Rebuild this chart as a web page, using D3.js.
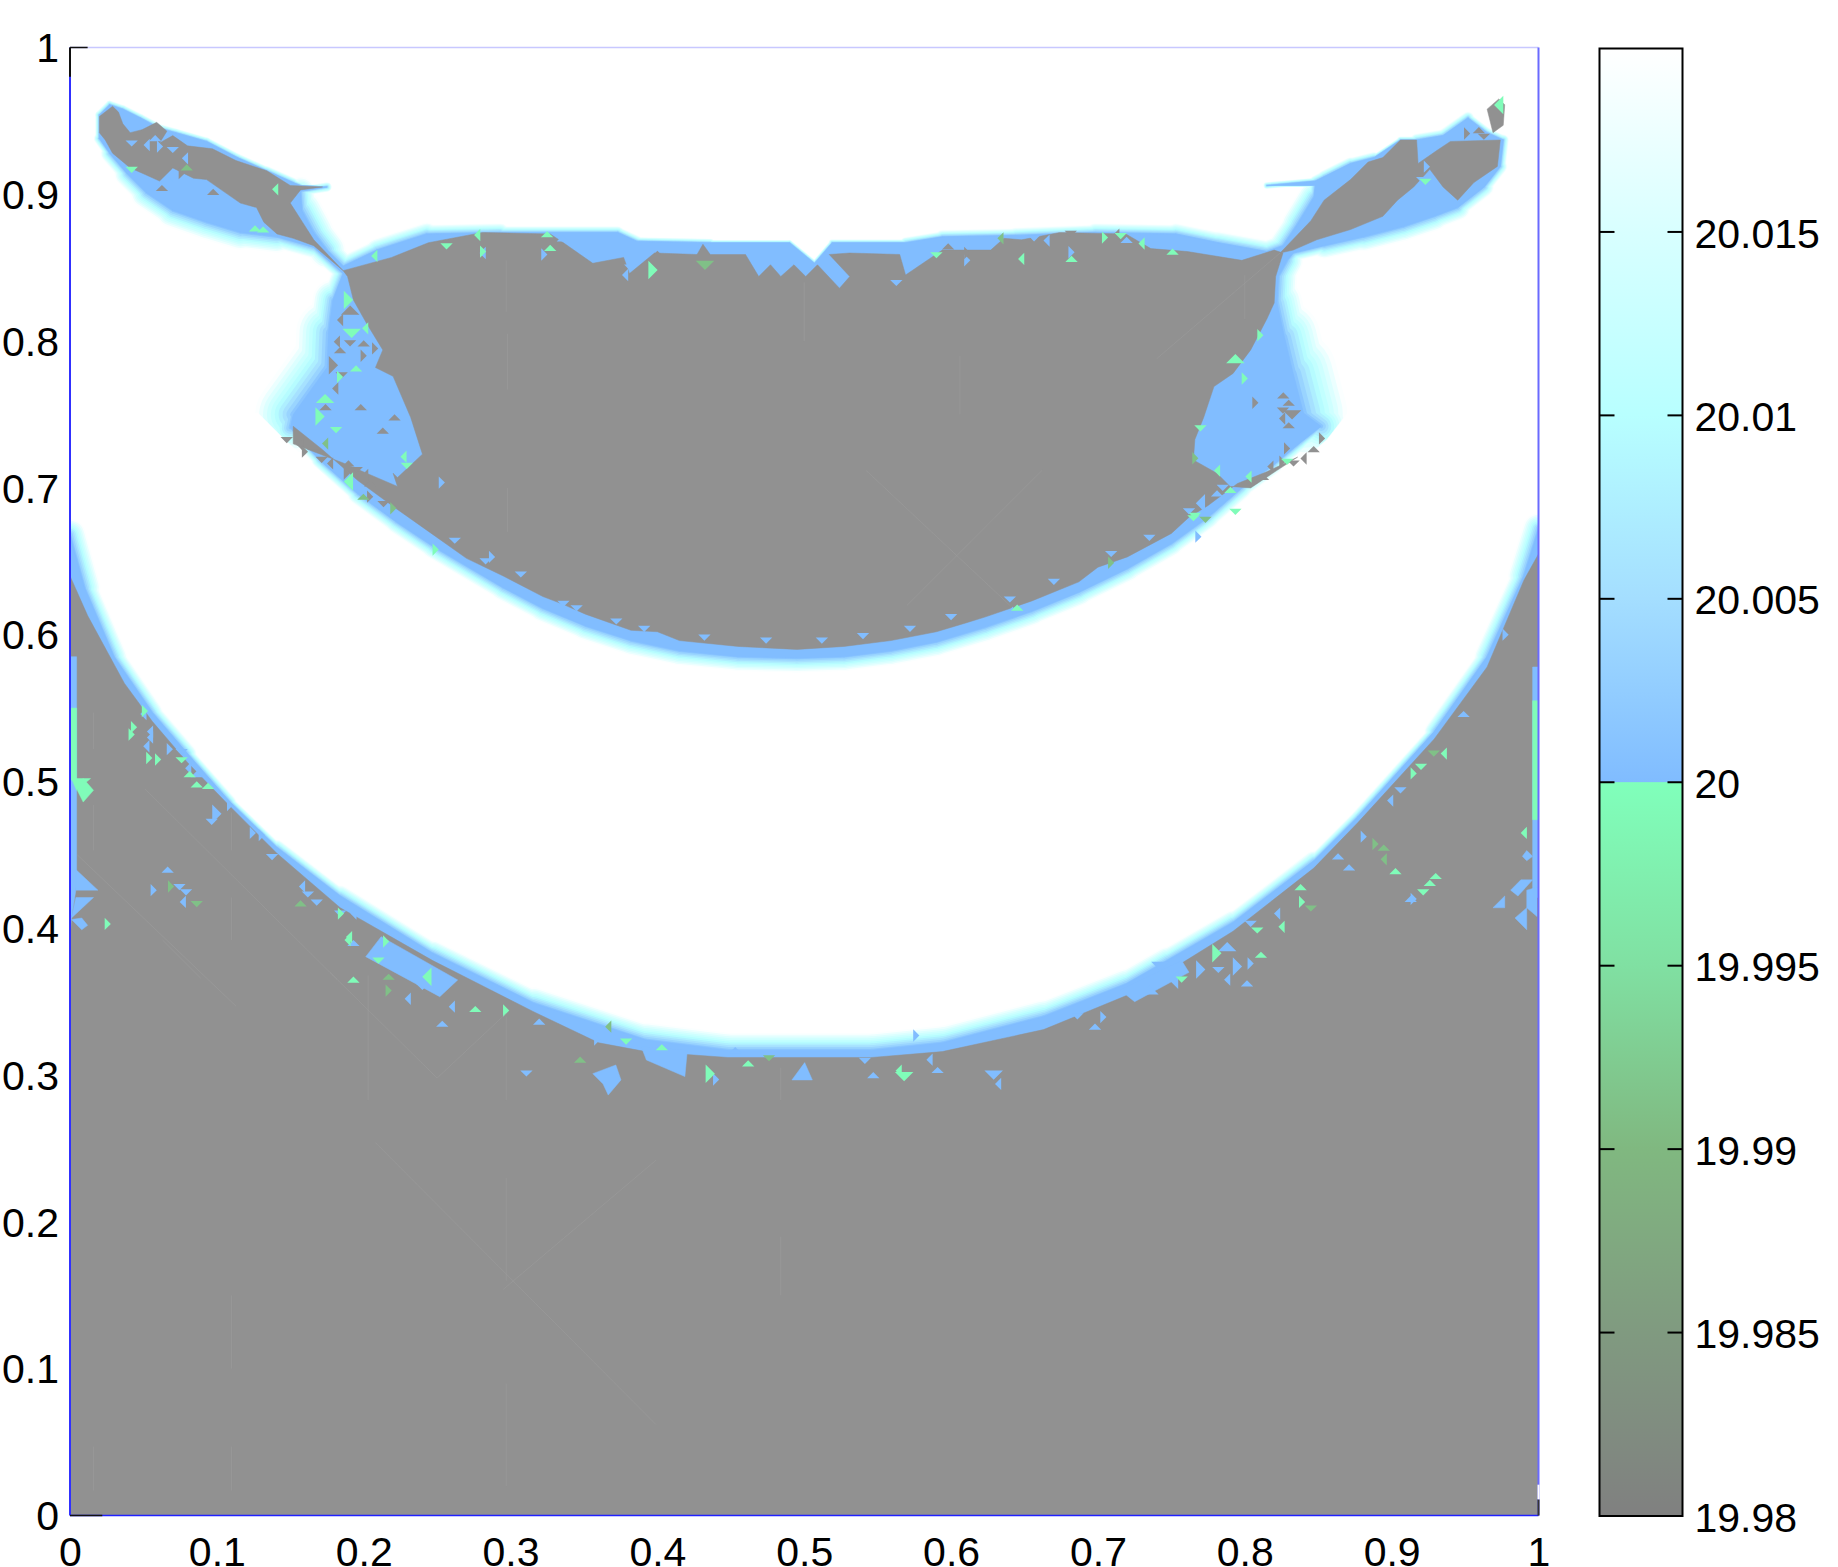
<!DOCTYPE html>
<html>
<head>
<meta charset="utf-8">
<script src="https://cdn.jsdelivr.net/npm/d3@7"></script>
<style>
  html, body { margin: 0; padding: 0; background: #fff; }
  svg { display: block; }
  text { font-family: "Liberation Sans", Arial, sans-serif; fill: #000; }
</style>
</head>
<body>
<div id="chart"></div>
<script>
// tick labels
var xTicks = [0, 0.1, 0.2, 0.3, 0.4, 0.5, 0.6, 0.7, 0.8, 0.9, 1];
var yTicks = [0, 0.1, 0.2, 0.3, 0.4, 0.5, 0.6, 0.7, 0.8, 0.9, 1];
var barTicks = [19.98, 19.985, 19.99, 19.995, 20, 20.005, 20.01, 20.015];
var barStubs = [19.985, 19.99, 19.995, 20, 20.005, 20.01, 20.015];

// colormap
var mapValues = [19.98, 19.985, 19.99, 19.995, 19.99999, 20.00001, 20.005, 20.01, 20.015, 20.02];
var mapColors = ["#808080", "#809a80", "#80b880", "#80e0a2", "#80ffbb", "#80bcff", "#a4deff", "#b8ffff", "#d8ffff", "#ffffff"];
var fieldGray = "#919191";

// steps of the fading edge between 20 and the top of the range
var bandLevels = [20.0195, 20.0175, 20.0155, 20.0135, 20.0115, 20.0095, 20.0075, 20.0055, 20.0035, 20.0015];

// contour at 20, upper region: x, y, width of the fade beyond it
var upperContour = [
  [.020,.954,.003],[.027,.961,.003],[.036,.958,.003],[.048,.952,.003],[.061,.945,.003],[.072,.942,.003],
  [.093,.936,.003],[.114,.925,.003],[.134,.916,.003],[.152,.908,.004],[.157,.906,.001],[.175,.905,.001],
  [.157,.902,.006],[.158,.889,.014],[.166,.874,.014],[.175,.862,.012],[.186,.851,.006],[.209,.862,.008],
  [.243,.873,.008],[.293,.874,.005],[.373,.874,.004],[.386,.868,.004],[.436,.867,.002],[.490,.867,.002],
  [.507,.853,.002],[.519,.867,.002],[.569,.867,.003],[.594,.871,.005],[.644,.872,.005],[.698,.874,.006],
  [.753,.873,.007],[.782,.867,.008],[.815,.861,.008],[.826,.865,.008],[.836,.880,.012],[.847,.898,.010],
  [.848,.906,.001],[.815,.906,.001],[.848,.909,.004],[.854,.912,.004],[.872,.921,.005],[.888,.925,.003],
  [.906,.937,.001],[.917,.937,.004],[.935,.940,.005],[.952,.952,.004],[.965,.942,.003],[.976,.937,.004],
  [.974,.919,.004],[.963,.905,.006],[.945,.891,.008],[.929,.885,.010],[.908,.878,.010],[.881,.871,.010],
  [.854,.865,.008],[.833,.860,.004],[.829,.855,.010],[.823,.844,.012],[.822,.826,.014],[.827,.803,.021],
  [.833,.778,.029],[.840,.751,.032],[.852,.742,.005],[.838,.731,.005],[.820,.716,.006],[.798,.700,.007],
  [.775,.680,.008],[.750,.662,.008],[.720,.645,.009],[.687,.629,.009],[.655,.616,.010],[.623,.605,.010],
  [.590,.595,.010],[.559,.589,.010],[.527,.585,.010],[.495,.584,.010],[.455,.585,.010],[.415,.589,.010],
  [.382,.596,.010],[.351,.606,.010],[.322,.618,.009],[.295,.632,.009],[.2475,.660,.008],[.222,.677,.008],
  [.196,.696,.007],[.170,.719,.005],[.150,.741,.005],[.152,.750,.026],[.175,.782,.027],[.176,.806,.018],
  [.179,.828,.010],[.186,.846,.006],
  [.166,.864,.006],[.141,.871,.010],[.116,.874,.012],[.093,.881,.012],[.070,.889,.012],[.052,.901,.010],
  [.039,.914,.008],[.027,.928,.005],[.020,.938,.003]
];

// contour at 20, lower region
var lowerContour = [
  [0,.668,.012],[.010,.632,.010],[.030,.585,.008],[.056,.547,.007],[.080,.519,.006],[.109,.486,.003],
  [.141,.455,.004],[.184,.422,.007],[.247,.383,.008],[.316,.349,.010],[.392,.324,.012],[.448,.317,.012],
  [.546,.317,.012],[.594,.322,.012],[.663,.340,.011],[.719,.362,.010],[.747,.378,.009],[.792,.404,.008],
  [.847,.446,.006],[.877,.476,.003],[.929,.534,.006],[.965,.585,.008],[.990,.640,.010],[1,.672,.012],
  [1,0,0],[0,0,0]
];

// white wedges beyond the two sharp corners of the bowl
var cornerWedges = [
  [[.870,.751],[.856,.733],[.828,.708],[.900,.660],[.950,.750]],
  [[.128,.751],[.146,.733],[.174,.708],[.100,.660],[.050,.750]]
];

// solid gray areas below the range
var grayBowl = [
  [.186,.848],[.219,.857],[.244,.867],[.281,.874],[.327,.873],[.336,.867],[.356,.853],[.377,.857],[.381,.846],
  [.398,.860],[.427,.859],[.431,.866],[.436,.859],[.460,.859],[.469,.844],[.477,.852],[.484,.844],[.493,.852],
  [.501,.844],[.509,.852],[.524,.836],[.531,.844],[.517,.859],[.531,.860],[.565,.859],[.569,.845],[.594,.862],
  [.627,.862],[.636,.870],[.648,.869],[.674,.874],[.719,.873],[.736,.863],[.761,.861],[.798,.855],[.820,.862],
  [.826,.860],[.821,.844],[.820,.826],[.815,.815],[.804,.794],[.792,.778],[.779,.769],[.772,.748],[.766,.733],
  [.765,.719],[.781,.710],[.790,.701],[.804,.700],[.822,.712],[.836,.721],[.815,.711],[.795,.703],[.775,.688],
  [.762,.680],[.750,.669],[.720,.653],[.700,.646],[.687,.636],[.655,.623],[.623,.612],[.610,.608],[.590,.602],
  [.559,.596],[.527,.592],[.495,.590],[.455,.592],[.415,.596],[.400,.602],[.382,.603],[.351,.614],[.335,.621],
  [.322,.626],[.295,.640],[.270,.652],[.2475,.668],[.222,.686],[.196,.705],[.172,.726],[.152,.742],
  [.152,.730],[.186,.717],[.202,.710],[.223,.701],
  [.220,.710],[.223,.707],[.240,.723],[.232,.748],[.220,.776],[.208,.782],[.213,.794],[.202,.812],[.193,.828],[.189,.844]
];

var grayLeftWing = [
  [.020,.953],[.029,.960],[.033,.956],[.036,.948],[.041,.942],[.049,.944],[.059,.949],[.066,.943],[.061,.935],
  [.070,.940],[.080,.933],[.097,.931],[.113,.923],[.134,.916],[.150,.906],[.172,.905],[.157,.903],[.150,.894],
  [.159,.880],[.166,.869],[.186,.848],[.166,.865],[.152,.870],[.141,.873],[.132,.881],[.127,.891],[.116,.894],
  [.093,.910],[.084,.911],[.070,.918],[.061,.909],[.050,.914],[.041,.918],[.029,.928],[.024,.937],[.020,.942]
];

var grayRightWing = [
  [.824,.860],[.845,.882],[.854,.896],[.872,.910],[.884,.922],[.894,.925],[.906,.937],[.917,.937],[.918,.921],
  [.931,.930],[.940,.936],[.974,.937],[.972,.919],[.956,.908],[.945,.896],[.935,.905],[.926,.917],[.915,.905],
  [.904,.896],[.894,.885],[.872,.876],[.849,.869],[.833,.862]
];

var grayTip = [[.973,.965],[.977,.961],[.976,.947],[.969,.942],[.965,.958]];

var grayLower = [
  [0,.640],[.012,.613],[.037,.567],[.056,.541],[.080,.513],[.109,.483],[.141,.451],[.184,.414],[.247,.378],
  [.316,.343],[.360,.322],[.392,.316],[.448,.312],[.546,.312],[.594,.316],[.663,.331],[.719,.354],[.747,.370],
  [.792,.398],[.847,.441],[.877,.472],[.929,.529],[.965,.578],[.990,.637],[1,.655],[1,0],[0,0]
];

// larger patches just above and just below 20, drawn over the gray
var bluePatches = [
  [[0,.585],[.0045,.585],[.0045,.501],[0,.501]],
  [[0,.501],[.0045,.501],[.0045,.440],[.004,.426],[.001,.407],[0,.395]],
  [[.004,.440],[.019,.426],[.004,.426]],
  [[.001,.407],[.016,.421],[.004,.421]],
  [[.001,.406],[.008,.407],[.012,.402],[.008,.399]],
  [[.996,.578],[1,.578],[1,.421],[.996,.421]],
  [[.992,.414],[.992,.399],[.984,.407]],
  [[.999,.408],[.992,.414],[.992,.426],[.999,.428]],
  [[.969,.414],[.977,.414],[.977,.422]],
  [[.981,.426],[.988,.433],[.996,.433],[.986,.422]],
  [[.989,.449],[.992,.453],[.996,.449],[.992,.446]],
  [[.2014,.3807],[.2119,.3943],[.264,.3648],[.2518,.3534]],
  [[.389,.3194],[.4204,.317],[.4187,.299],[.3925,.3103]],
  [[.356,.301],[.3717,.3069],[.3752,.2967],[.3665,.2864],[.363,.294]],
  [[.4916,.2967],[.5003,.3085],[.5055,.2967]],
  [[.715,.358],[.757,.378],[.762,.370],[.725,.350]]
];
var greenPatches = [
  [[0,.550],[.0045,.550],[.0045,.501],[0,.501]],
  [[.996,.555],[1,.555],[1,.474],[.996,.474]],
  [[.001,.502],[.014,.502],[.0045,.494]],
  [[.005,.494],[.009,.502],[.016,.494],[.009,.486]]
];

// single mesh cells: x, y, direction (0 up, 1 right, 2 down, 3 left, 4 by position), size
var blueCells = [
  [.0665,.440,0,1],[.057,.426,1,1],[.0745,.428,2,1],[.079,.4245,2,1],[.0768,.418,3,1],[.100,.478,4,2],[.0965,.4725,4,1],
  [.109,.484,1,1],[.1245,.465,1,1],[.1306,.4635,1,1],[.1376,.4485,4,1],[.158,.4285,4,1],[.162,.423,2,1],[.168,.4175,2,1],
  [.184,.410,4,1],[.193,.410,4,1],[.193,.390,4,1],[.068,.522,4,1],[.076,.520,4,1],[.050,.546,4,1],[.0545,.534,3,1],
  [.0545,.530,3,1],[.052,.524,3,1],[.0805,.509,4,1],[.0863,.505,4,1],
  [.881,.4624,4,1],[.8635,.449,0,1],[.871,.4415,0,1],[.913,.420,4,1],[.915,.420,4,1],[.906,.494,4,1],[.899,.487,4,1],
  [.949,.546,4,1],[.9776,.600,4,1],[.804,.403,4,1],[.822,.410,4,1],[.788,.3875,4,2],[.795,.374,4,2],[.782,.3716,4,1],
  [.788,.365,4,1],[.8015,.3625,4,1],[.804,.376,1,1],[.7425,.374,4,2],[.7515,.365,4,2],[.735,.358,4,2],[.770,.372,4,2],
  [.3108,.3011,4,1],[.5853,.3105,4,1],[.5908,.3035,4,1],[.5763,.327,4,1],[.629,.300,4,2],[.632,.294,4,1],[.698,.333,4,1],
  [.7037,.3395,4,1],[.686,.340,4,1],[.260,.3466,4,1],[.3195,.3364,4,1],[.359,.3242,4,1],[.453,.317,0,1],[.547,.300,0,1],
  [.5413,.3097,2,1],[.440,.297,4,1],[.240,.360,4,1],[.230,.352,4,1],[.2535,.335,4,1],
  [.2874,.653,4,1],[.307,.641,4,1],[.640,.615,4,1],[.2532,.7036,1,1],
  [.262,.664,2,1],[.283,.650,2,1],[.336,.621,2,1],[.345,.618,2,1],[.372,.609,2,1],[.391,.604,2,1],[.432,.598,2,1],
  [.474,.596,2,1],[.512,.596,2,1],[.540,.599,2,1],[.572,.604,2,1],[.600,.612,2,1],[.640,.624,2,1],[.670,.636,2,1],
  [.709,.655,2,1],[.735,.666,2,1],[.762,.684,2,1],[.785,.700,2,1],
  [.281,.860,4,1],[.3356,.870,4,1],[.323,.859,4,1],[.3815,.850,4,1],[.378,.845,4,1],[.5627,.8396,2,1],[.611,.855,4,1],
  [.6565,.870,4,1],[.665,.8685,4,1],[.7195,.869,4,1],[.682,.8605,4,1],
  [.042,.9346,4,1],[.0522,.9336,4,1],[.058,.9383,4,1],[.0613,.9325,4,1],[.070,.9302,4,1],[.0783,.9245,4,1],[.0659,.9109,4,1],
  [.924,.9188,4,1],[.9208,.9097,4,1],[.7698,.6895,4,2],[.7811,.6963,4,1],[.7684,.6668,4,1]
];
var greenCells = [
  [.0257,.403,1,1],[.051,.548,4,1],[.0436,.537,1,1],[.042,.532,1,1],[.054,.516,1,1],[.060,.515,1,1],[.076,.5145,4,1],
  [.0815,.505,0,1],[.0863,.498,0,1],[.094,.497,0,1],[.1845,.410,1,1],[.190,.394,4,1],
  [.9026,.439,0,1],[.930,.4356,0,1],[.926,.431,0,1],[.9215,.4245,2,1],[.990,.465,3,1],[.915,.5055,4,1],[.920,.510,4,1],
  [.9355,.519,4,1],[.838,.428,4,1],[.839,.418,4,1],[.8085,.3985,4,1],[.825,.401,4,1],[.811,.382,4,1],[.781,.383,4,2],[.757,.365,4,1],
  [.189,.392,4,1],[.193,.365,4,1],[.2153,.391,4,1],[.210,.378,4,1],[.243,.367,4,2],[.276,.345,4,1],[.297,.344,4,1],
  [.3787,.3228,4,1],[.403,.319,0,1],[.4618,.308,0,1],[.436,.301,4,2],[.568,.299,4,2],[.5643,.303,4,1],
  [.645,.6185,4,1],[.249,.658,4,1],[.766,.681,4,1],
  [.2773,.8723,4,1],[.3249,.8728,4,1],[.2813,.861,4,1],[.2564,.8645,4,1],[.2072,.858,4,1],[.327,.8635,4,1],[.397,.8484,4,2],
  [.590,.8585,4,1],[.6477,.856,4,1],[.682,.856,4,1],[.7048,.8705,4,1],[.7155,.8715,4,1],[.7297,.8665,4,1],[.7508,.861,4,1],[.1896,.828,4,2],
  [.042,.9166,4,1],[.1397,.9034,4,1],[.126,.8768,0,1],[.1315,.876,0,1],[.923,.9085,4,1],[.9729,.9608,4,2],
  [.7936,.7881,4,2],[.800,.7745,4,1],[.7698,.7405,4,1],[.8025,.7077,4,1],[.7902,.6987,0,1],[.8106,.804,4,1],[.8288,.7178,4,1],
  [.7811,.7118,4,1],[.765,.6793,2,1],[.7936,.6837,2,1],
  [.1918,.8053,4,2],[.201,.8087,4,1],[.1737,.7609,4,2],[.1703,.7486,4,2],[.1812,.7394,4,1],[.1896,.7043,4,2],[.1948,.7814,4,1],
  [.1839,.7756,4,1],[.2293,.715,4,1],[.2271,.7213,4,1]
];
var darkCells = [
  [.0688,.4285,1,1],[.0863,.4165,2,1],[.157,.417,0,1],[.8946,.455,0,1],[.8946,.447,3,1],[.889,.4574,1,1],[.9287,.519,4,1],
  [.845,.4135,2,1],[.217,.367,4,1],[.217,.3576,4,1],[.3474,.3105,0,1],[.3665,.333,4,1],[.476,.3115,2,1],[.709,.649,4,1],
  [.4324,.8515,4,2],[.6336,.870,4,1],[.0795,.9183,4,1],[.7663,.7202,4,1],[.7732,.6782,4,1],[.1737,.7302,4,1],[.1998,.694,4,1],[.2202,.6861,4,1]
];
var grayCells = [
  [.598,.8645,4,1],[.611,.860,4,1],[.6815,.873,4,1],[.7125,.8725,4,1],[.400,.8594,4,1],[.0761,.9144,4,1],[.0975,.9017,0,1],
  [.0626,.9043,0,1],[.9594,.9437,4,1],[.9514,.9414,4,1],[.9628,.9392,4,1],[.8072,.758,1,1],[.8299,.758,4,1],[.8262,.763,0,1],
  [.8322,.7497,4,2],[.8254,.7473,4,1],[.8299,.7427,4,1],[.8288,.7269,4,1],[.826,.7526,4,1],[.8174,.7145,4,1],[.8124,.7075,4,1],
  [.8256,.7178,4,1],[.8332,.7166,4,1],[.840,.720,4,1],[.8469,.7264,4,1],[.8526,.7337,4,1],
  [.1476,.7326,4,1],[.1567,.7292,4,1],[.1658,.7281,4,1],[.160,.7247,4,1],[.1714,.7191,4,1],[.1771,.7167,4,1],[.1896,.7167,4,1],
  [.1885,.7098,4,1],[.1953,.7122,4,1],[.201,.7088,4,1],[.2044,.703,4,1],[.2044,.694,4,1],[.2135,.689,4,1],[.1817,.7996,4,1],
  [.1839,.7938,4,1],[.1794,.7836,4,2],[.185,.7766,4,1],[.1806,.7677,4,1],[.200,.7985,4,1],[.2078,.795,4,1],[.1907,.7985,4,1],
  [.1839,.8144,4,1],[.1908,.8211,4,2],[.200,.790,4,1],[.198,.755,0,1],[.213,.739,0,1],[.221,.748,0,1],[.174,.755,0,1]
];

// faint mesh lines inside the gray: x1, y1, x2, y2
var meshLines = [
  [.016,.047,.016,.017],[.110,.047,.110,.017],[.016,.547,.016,.522],[.016,.484,.016,.453],[.110,.479,.110,.453],[.110,.421,.110,.392],
  [.297,.340,.297,.283],[.203,.368,.203,.283],[.484,.305,.484,.283],[.298,.805,.298,.767],[.298,.700,.298,.670],[.297,.855,.297,.820],
  [.500,.840,.500,.800],[.606,.790,.606,.750],[.110,.150,.110,.100],[.297,.090,.297,.020],[.484,.190,.484,.150],[.297,.230,.297,.160],
  [.800,.845,.800,.815],
  [.005,.450,.113,.347],[.051,.495,.182,.365],[.063,.392,.089,.366],[.177,.370,.250,.298],[.250,.298,.297,.342],
  [.824,.860,.740,.788],[.542,.712,.640,.620],[.662,.712,.570,.620],[.208,.254,.399,.062],[.399,.242,.295,.154]
];

var margin = {top: 47.5, right: 299.5, bottom: 51.5, left: 70},
  width = 1838 - margin.left - margin.right,
  height = 1567 - margin.top - margin.bottom;

var x = d3.scaleLinear().domain([0, 1]).range([0, width]);
var y = d3.scaleLinear().domain([0, 1]).range([height, 0]);
var color = d3.scaleLinear().domain(mapValues).range(mapColors).clamp(true);

var svg = d3.select("#chart").append("svg")
  .attr("width", 1838)
  .attr("height", 1567);

svg.append("clipPath")
  .attr("id", "plot-clip")
  .append("rect")
  .attr("width", width)
  .attr("height", height);

var plot = svg.append("g")
  .attr("transform", "translate(" + margin.left + "," + margin.top + ")");

var field = plot.append("g").attr("clip-path", "url(#plot-clip)");

var ring = d3.line()
  .x(function(d) { return x(d[0]); })
  .y(function(d) { return y(d[1]); })
  .curve(d3.curveLinearClosed);

function drawAreas(list, fill) {
  field.append("g").selectAll("path")
    .data(list)
    .enter().append("path")
    .attr("d", ring)
    .attr("fill", fill)
    .attr("stroke", fill)
    .attr("stroke-width", 0.5);
}

// fading edges, palest and widest first
var contours = [upperContour, lowerContour];
bandLevels.forEach(function(level) {
  var t = (level - 20) / 0.02;
  contours.forEach(function(contour) {
    var segments = d3.pairs(contour.concat([contour[0]]))
      .filter(function(p) { return p[0][2] + p[1][2] > 0; });
    field.append("g").selectAll("line")
      .data(segments)
      .enter().append("line")
      .attr("x1", function(p) { return x(p[0][0]); })
      .attr("y1", function(p) { return y(p[0][1]); })
      .attr("x2", function(p) { return x(p[1][0]); })
      .attr("y2", function(p) { return y(p[1][1]); })
      .attr("stroke", color(level))
      .attr("stroke-linecap", "round")
      .attr("stroke-width", function(p) { return (x(p[0][2]) + x(p[1][2])) * t; });
  });
});

drawAreas(cornerWedges, "#fff");
drawAreas(contours, color(20.0002));
drawAreas([grayLower, grayBowl, grayLeftWing, grayRightWing, grayTip], fieldGray);
drawAreas(bluePatches, color(20.0002));
drawAreas(greenPatches, color(19.9995));

// one mesh cell as a small triangle
function cellPath(d, i) {
  var r = 0.0042 * (1 + (d[3] - 1) * 0.5), cx = d[0], cy = d[1], pts;
  var dir = d[2] == 4 ? i % 4 : d[2];
  if (dir == 0) pts = [[cx - r, cy - r / 2], [cx, cy + r / 2], [cx + r, cy - r / 2]];
  else if (dir == 1) pts = [[cx - r / 2, cy + r], [cx + r / 2, cy], [cx - r / 2, cy - r]];
  else if (dir == 2) pts = [[cx - r, cy + r / 2], [cx, cy - r / 2], [cx + r, cy + r / 2]];
  else pts = [[cx + r / 2, cy + r], [cx - r / 2, cy], [cx + r / 2, cy - r]];
  return ring(pts);
}

function drawCells(list, fill) {
  field.append("g").selectAll("path")
    .data(list)
    .enter().append("path")
    .attr("d", cellPath)
    .attr("fill", fill);
}

drawCells(blueCells, color(20.0002));
drawCells(grayCells, fieldGray);
drawCells(greenCells, color(19.9995));
drawCells(darkCells, color(19.991));

field.append("g").selectAll("line")
  .data(meshLines)
  .enter().append("line")
  .attr("x1", function(d) { return x(d[0]); })
  .attr("y1", function(d) { return y(d[1]); })
  .attr("x2", function(d) { return x(d[2]); })
  .attr("y2", function(d) { return y(d[3]); })
  .attr("stroke", "#a0a0a0")
  .attr("stroke-opacity", 0.45)
  .attr("stroke-width", 1);

// frame of the mesh: blue, with short black stretches near the corners
var frame = [
  [0, 0, 0, 1, "#3030ff", 2], [0, 1, 1, 1, "#c8c8ff", 1.5], [1, 1, 1, 0, "#6a6aff", 2], [0, 0, 1, 0, "#2020ff", 1.5],
  [0, 0.98, 0, 1, "#111", 2], [0, 1, 0.012, 1, "#111", 1.5], [0, 0, 0.022, 0, "#111", 1.5], [1, 0, 1, 0.011, "#333", 2], [1, 0.011, 1, 0.021, "#fff", 2]
];
plot.append("g").selectAll("line")
  .data(frame)
  .enter().append("line")
  .attr("x1", function(d) { return x(d[0]); })
  .attr("y1", function(d) { return y(d[1]); })
  .attr("x2", function(d) { return x(d[2]); })
  .attr("y2", function(d) { return y(d[3]); })
  .attr("stroke", function(d) { return d[4]; })
  .attr("stroke-width", function(d) { return d[5]; });

var xAxis = d3.axisBottom(x).tickValues(xTicks).tickSize(0).tickPadding(21).tickFormat(function(d) { return d; });
var yAxis = d3.axisLeft(y).tickValues(yTicks).tickSize(0).tickPadding(11).tickFormat(function(d) { return d; });

plot.append("g")
  .attr("transform", "translate(0," + height + ")")
  .call(xAxis)
  .call(styleAxis);

plot.append("g")
  .attr("transform", "translate(0,1)")
  .call(yAxis)
  .call(styleAxis);

function styleAxis(g) {
  g.select(".domain").remove();
  g.attr("font-family", null).attr("font-size", null);
  g.selectAll("text").style("font-size", "41px").style("fill", "#000");
}

// colour bar
var barLeft = 1599.5, barRight = 1682.5;
var barScale = d3.scaleLinear().domain([19.98, 20.02]).range([1516, 48.5]);

var gradient = svg.append("linearGradient")
  .attr("id", "bar-gradient")
  .attr("x1", 0).attr("x2", 0).attr("y1", 1).attr("y2", 0);

gradient.selectAll("stop")
  .data(mapValues)
  .enter().append("stop")
  .attr("offset", function(d) { return (d - 19.98) / 0.04; })
  .attr("stop-color", function(d) { return color(d); });

svg.append("rect")
  .attr("x", barLeft)
  .attr("y", barScale(20.02))
  .attr("width", barRight - barLeft)
  .attr("height", barScale(19.98) - barScale(20.02))
  .attr("fill", "url(#bar-gradient)")
  .attr("stroke", "#000")
  .attr("stroke-width", 2);

var stubs = svg.append("g").selectAll("g")
  .data(barStubs)
  .enter().append("g");

stubs.append("line")
  .attr("x1", barLeft).attr("x2", barLeft + 15)
  .attr("y1", function(d) { return barScale(d); })
  .attr("y2", function(d) { return barScale(d); })
  .attr("stroke", "#000").attr("stroke-width", 2);

stubs.append("line")
  .attr("x1", barRight - 15).attr("x2", barRight)
  .attr("y1", function(d) { return barScale(d); })
  .attr("y2", function(d) { return barScale(d); })
  .attr("stroke", "#000").attr("stroke-width", 2);

svg.append("g")
  .attr("transform", "translate(" + barRight + ",2)")
  .call(d3.axisRight(barScale).tickValues(barTicks).tickSize(0).tickPadding(12).tickFormat(function(d) { return d; }))
  .call(styleAxis);
</script>
</body>
</html>
